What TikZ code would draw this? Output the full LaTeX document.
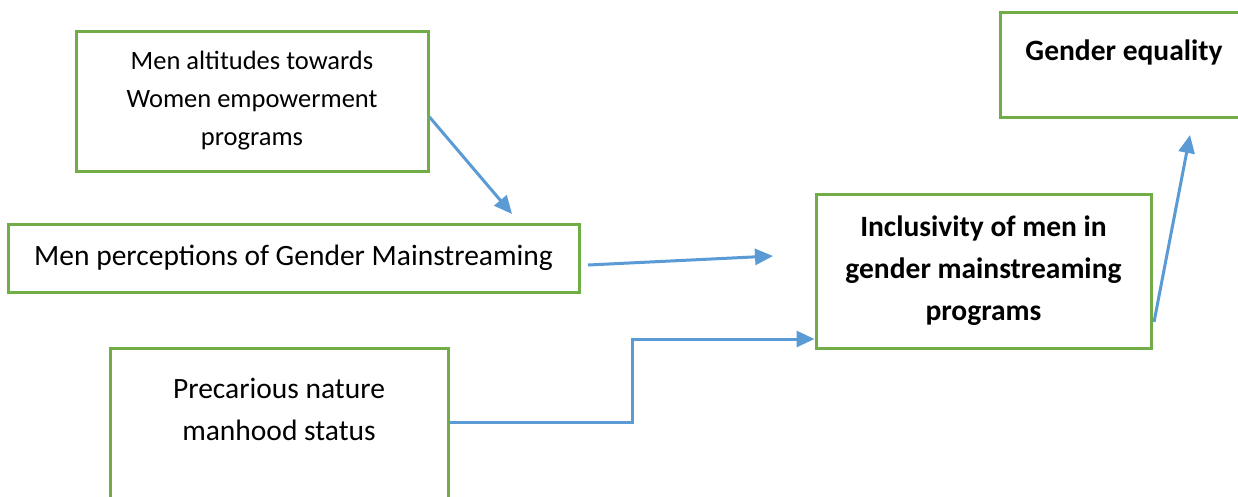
\documentclass[tikz,border=0pt]{standalone}
\usepackage{fontspec}
\setmainfont{Carlito}
\usetikzlibrary{arrows.meta}
\definecolor{boxgreen}{HTML}{70AD47}
\definecolor{linkblue}{HTML}{5B9BD5}
\tikzset{
  box/.style={draw=boxgreen, line width=3pt, rectangle, inner sep=0pt, align=center},
  link/.style={draw=linkblue, line width=3pt, -{Triangle[length=18pt,width=16pt]}},
  small words/.style={font=\fontsize{26.5}{38}\selectfont},
  big words/.style={font=\fontsize{29.5}{42}\selectfont},
  bold words/.style={font=\fontsize{29.5}{42}\selectfont\bfseries}
}
\begin{document}
\begin{tikzpicture}[x=1pt, y=-1pt]
      \clip (0,0) rectangle (1238,496);
      \fill[white] (0,0) rectangle (1238,496);
      \draw
        (252,101) node[box, small words, minimum width=352pt, minimum height=140pt] (attitudes){Men altitudes towards\\Women empowerment\\programs}
        (293.5,258) node[box, big words, minimum width=571pt, minimum height=68pt] (perceptions){Men perceptions of Gender Mainstreaming}
        (279,434) node[box, minimum width=338pt, minimum height=172pt] (nature){}
        (983.5,271) node[box, bold words, minimum width=335pt, minimum height=154pt] (inclusivity){Inclusivity of men in\\gender mainstreaming\\programs}
        (1124,64.5) node[box, minimum width=248pt, minimum height=105pt] (equality){};
      \node[big words, align=center] (naturetext) at (279,409) {Precarious nature\\manhood status};
      \node[bold words] (equalitytext) at (1124,52) {Gender equality};
      \coordinate (a1) at (512,214);
      \coordinate (a2s) at (588,265);
      \coordinate (a2e) at (773,256);
      \coordinate (a3) at (632,380);
      \coordinate (a4s) at (1154,322);
      \coordinate (a4e) at (1190,135);
      \begin{scope}[link]
        \draw ([yshift=-16pt]attitudes.east) to (a1);
        \draw (a2s) to (a2e);
        \draw ([yshift=12pt]nature.east) -| (a3) |- ([yshift=-68pt]inclusivity.west);
        \draw (a4s) to (a4e);
      \end{scope}
    \end{tikzpicture}
\end{document}
